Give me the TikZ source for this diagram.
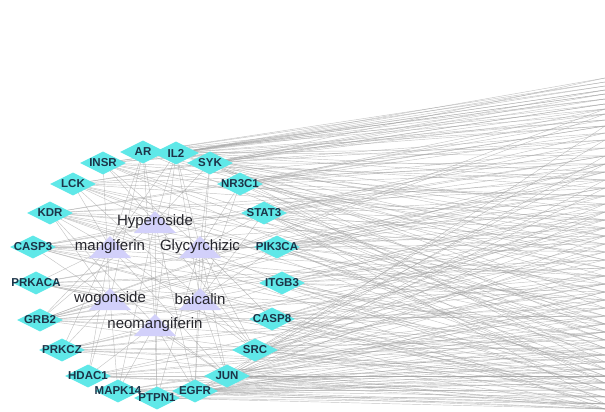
\documentclass[tikz,border=0pt]{standalone}
\usepackage{fontspec}
\setmainfont{Liberation Sans}
\usetikzlibrary{shapes.geometric, backgrounds}

\definecolor{tcyan}{RGB}{95,232,232}
\definecolor{tlav}{RGB}{210,208,250}
\definecolor{tname}{RGB}{28,52,72}
\definecolor{cname}{RGB}{38,38,44}

\tikzset{
  target/.style={diamond, fill=tcyan, minimum width=46pt, minimum height=23pt, inner sep=0pt,
    label={[font=\fontsize{11.5}{13}\selectfont\bfseries, text=tname]center:#1}},
  comp/.style={font=\fontsize{15}{17}\selectfont, text=cname, inner sep=0pt},
  edge/.style={draw=gray!75, draw opacity=0.6, line width=0.45pt},
}

\begin{document}
\begin{tikzpicture}[x=1pt, y=-1pt]
\useasboundingbox (0,0) rectangle (605,412);

% targets round the ring
\node[target=AR]     (ar)     at (143,152) {};
\node[target=IL2]    (il2)    at (176,153) {};
\node[target=SYK]    (syk)    at (210,163) {};
\node[target=INSR]   (insr)   at (103,163) {};
\node[target=LCK]    (lck)    at (73,184)  {};
\node[target=NR3C1]  (nr3c1)  at (240,184) {};
\node[target=KDR]    (kdr)    at (50,213)  {};
\node[target=STAT3]  (stat3)  at (264,213) {};
\node[target=CASP3]  (casp3)  at (33,247)  {};
\node[target=PIK3CA] (pik3ca) at (277,247) {};
\node[target=PRKACA] (prkaca) at (36,283)  {};
\node[target=ITGB3]  (itgb3)  at (282,283) {};
\node[target=GRB2]   (grb2)   at (40,320)  {};
\node[target=CASP8]  (casp8)  at (272,319) {};
\node[target=PRKCZ]  (prkcz)  at (62,350)  {};
\node[target=SRC]    (src)    at (255,350) {};
\node[target=HDAC1]  (hdac1)  at (88,376)  {};
\node[target=JUN]    (jun)    at (227,376) {};
\node[target=MAPK14] (mapk14) at (118,391) {};
\node[target=EGFR]   (egfr)   at (195,391) {};
\node[target=PTPN1]  (ptpn1)  at (157,398) {};

% compounds in the middle
\node[comp] (hyp)  at (155,222) {Hyperoside};
\node[comp] (mang) at (110,247) {mangiferin};
\node[comp] (gly)  at (200,247) {Glycyrchizic};
\node[comp] (wog)  at (110,299) {wogonside};
\node[comp] (bai)  at (200,299) {baicalin};
\node[comp] (neo)  at (155,325) {neomangiferin};

% free ends on the right border
\foreach \i/\y in {1/78,2/86,3/94,4/104,5/114,6/126,7/140,8/156,9/172,10/188,11/204,12/220,
                   13/236,14/252,15/268,16/284,17/300,18/316,19/332,20/348,21/362,22/376,
                   23/390,24/404}
  \coordinate (f\i) at (605,\y);
\foreach \i/\y in {1/82,2/90,3/99,4/109,5/120,6/133,7/148,8/164,9/180,10/196,11/212,12/228,
                   13/244,14/260,15/276,16/292,17/308,18/324,19/340,20/355,21/369,22/383,
                   23/397,24/409}
  \coordinate (g\i) at (605,\y);

\begin{pgfonlayer}{background}
\foreach \a/\list in {il2/{1,2,3,4,6,9,13,17}, ar/{2,5,8,12,16}, syk/{1,3,4,5,7,10,14,19},
    insr/{3,6,11,15,20}, lck/{4,7,12,18,22}, nr3c1/{5,6,8,9,13,21}, kdr/{6,10,14,19,23},
    stat3/{7,8,9,11,12,15,18,20,24}, casp3/{8,13,17,21,24}, pik3ca/{9,10,11,12,14,16,19,22},
    prkaca/{10,15,20,23}, itgb3/{11,13,15,17,20,23}, grb2/{5,9,12,16,18},
    casp8/{12,14,16,18,21,22,24}, prkcz/{13,17,20,22}, src/{7,11,14,16,18,19,21,23},
    hdac1/{16,19,22,24}, jun/{6,10,15,17,19,20,22,23,24}, mapk14/{18,21,23,24},
    ptpn1/{19,22,24}, egfr/{8,13,17,20,21,22,23,24}}
  \foreach \b in \list
    \draw[edge] (\a.center) -- (f\b);

\foreach \a/\list in {il2/{1,2,3,5,7,11,15}, ar/{1,3,4,9,14,19}, syk/{2,4,6,8,12,17,21},
    insr/{2,5,9,13,18,22}, lck/{3,8,10,16,20}, nr3c1/{4,6,7,10,14,18}, kdr/{5,9,12,17,21,24},
    stat3/{6,8,10,13,16,19,22}, casp3/{7,11,15,19,23}, pik3ca/{8,10,12,13,15,18,21},
    prkaca/{9,14,18,22,24}, itgb3/{10,12,14,16,19,22}, grb2/{4,8,11,15,20,23},
    casp8/{11,13,15,17,20,23}, prkcz/{12,16,19,21,24}, src/{8,12,15,17,20,22,24},
    hdac1/{14,18,20,23}, jun/{9,13,16,18,21,22,23,24}, mapk14/{17,20,22,24},
    ptpn1/{18,21,23,24}, egfr/{11,16,19,20,21,22,23,24}}
  \foreach \b in \list
    \draw[edge] (\a.center) -- (g\b);

\foreach \c/\list in {hyp/{il2,ar,syk,insr,lck,kdr,stat3,casp3,pik3ca,grb2,src,egfr,mapk14,ptpn1},
    mang/{il2,ar,lck,kdr,casp3,prkaca,grb2,prkcz,hdac1,jun,src,stat3},
    gly/{il2,syk,nr3c1,stat3,pik3ca,itgb3,casp8,src,jun,egfr,ptpn1,insr},
    wog/{ar,insr,kdr,casp3,prkaca,grb2,prkcz,hdac1,mapk14,pik3ca,jun},
    bai/{il2,syk,nr3c1,stat3,pik3ca,itgb3,casp8,src,jun,egfr,lck},
    neo/{ar,il2,kdr,grb2,prkcz,hdac1,mapk14,ptpn1,egfr,jun,casp8,itgb3}}
  \foreach \t in \list
    \draw[edge] (\c.center) -- (\t.center);

% lavender triangles under the compound names
\foreach \c in {hyp,mang,gly,wog,bai,neo}
  \fill[tlav] ([yshift=11pt]\c.center) -- ([xshift=-21pt,yshift=-11pt]\c.center)
    -- ([xshift=21pt,yshift=-11pt]\c.center) -- cycle;
\end{pgfonlayer}

\end{tikzpicture}
\end{document}
